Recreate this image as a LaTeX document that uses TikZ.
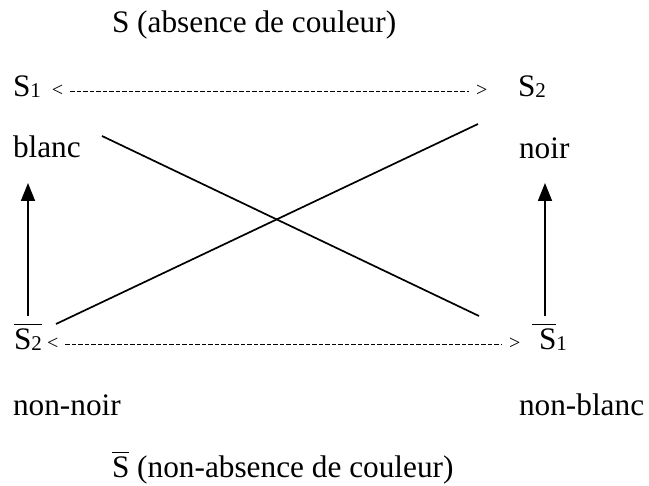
\documentclass[tikz,border=0pt]{standalone}
\usepackage{fontspec}
\setmainfont{Liberation Serif}
\usetikzlibrary{arrows.meta}
\newcommand\myovl[2][0pt]{\begingroup\setbox0\hbox{\kern#1\relax #2}\rlap{\raisebox{25pt}{\rule{\wd0}{1.4pt}}}\box0\endgroup}
\newcommand\mysub[1]{\raisebox{-1pt}{\fontsize{21}{21}\selectfont #1}}
\tikzset{
  txt/.style={anchor=base west, inner sep=0pt, outer sep=0pt, font=\fontsize{31.3}{36}\selectfont},
  sym/.style={anchor=base west, inner sep=0pt, outer sep=0pt, font=\fontsize{20}{20}\selectfont},
  dashline/.style={line width=1.2pt, dash pattern=on 4.5pt off 2pt, shorten <=7pt, shorten >=7pt},
  crossline/.style={line width=1.7pt},
  uparrow/.style={line width=1.6pt, -{Triangle[length=18pt,width=14pt]}}
}
\begin{document}
\begin{tikzpicture}[x=1pt,y=-1pt]
\useasboundingbox (0,0) rectangle (649,486);
% texts
\node[txt] (title) at (112,33) {S (absence de couleur)};
\node[txt] (s1) at (13,97) {S\mysub{1}};
\node[sym] (lt1) at (52,97) {<};
\node[sym] (gt1) at (476,97) {>};
\node[txt] (s2) at (518,97) {S\mysub{2}};
\node[txt] (blanc) at (13,158) {blanc};
\node[txt] (noir) at (519,159) {noir};
\node[txt] (s2b) at (14,350) {\myovl{S\mysub{2}}};
\node[sym] (lt2) at (47,350) {<};
\node[sym] (gt2) at (509,350) {>};
\node[txt] (s1b) at (532,350) {\myovl[7pt]{S}\mysub{1}};
\node[txt] (nonnoir) at (13,416) {non-noir};
\node[txt] (nonblanc) at (519,416) {non-blanc};
\node[txt] (btitle) at (112,478) {\myovl{S} (non-absence de couleur)};
% dashed oppositions
\draw[dashline] (lt1.east) -- (gt1.west);
\draw[dashline] (lt2.east) -- (gt2.west);
% crossing lines
\coordinate (c1a) at (102,136);
\coordinate (c1b) at (479,316);
\coordinate (c2a) at (56,324);
\coordinate (c2b) at (478,124);
\draw[crossline] (c1a) -- (c1b);
\draw[crossline] (c2a) -- (c2b);
% implication arrows
\coordinate (a1a) at (28,316);
\coordinate (a1b) at (28,183);
\coordinate (a2a) at (545,316);
\coordinate (a2b) at (545,183);
\draw[uparrow] (a1a) -- (a1b);
\draw[uparrow] (a2a) -- (a2b);
\end{tikzpicture}
\end{document}
